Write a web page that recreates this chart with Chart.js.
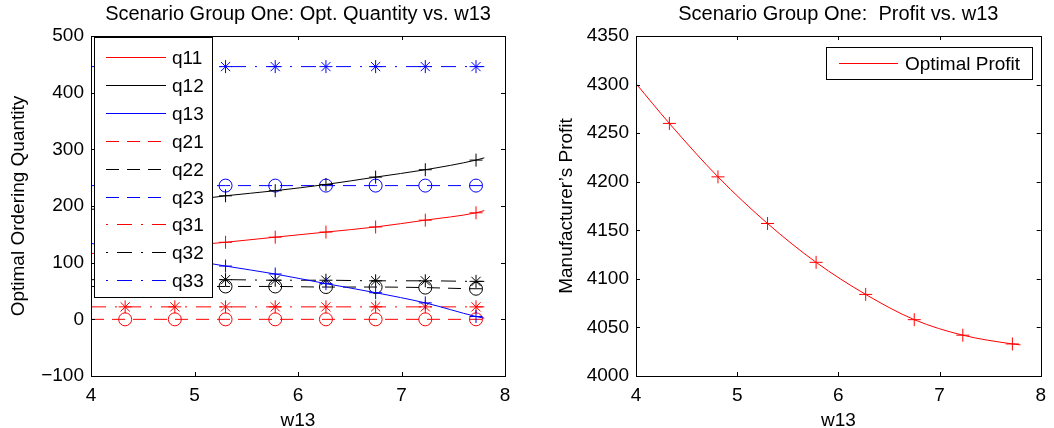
<!DOCTYPE html>
<html>
<head>
<meta charset="utf-8">
<script src="https://cdn.jsdelivr.net/npm/chart.js@4.4.1/dist/chart.umd.min.js"></script>
<style>
    html, body { margin: 0; padding: 0; background: #fff; }
    #wrap { position: relative; width: 1054px; height: 428px; background: #fff; }
    .box { position: absolute; top: 0; width: 527px; height: 428px; }
</style>
</head>
<body>
<div id="wrap">
    <div class="box" style="left:0"><canvas id="qty" width="527" height="428"></canvas></div>
    <div class="box" style="left:527px"><canvas id="profit" width="527" height="428"></canvas></div>
</div>
<script>
"use strict";

// w13 values: line start, the 8 marker positions, line end
const w13 = [4.00, 4.33, 4.81, 5.30, 5.78, 6.27, 6.75, 7.23, 7.72, 7.80];

// optimal ordering quantities
const q11 = [116, 121, 128, 136, 145, 154, 163, 175, 188, 192];
const q12 = [194, 199, 207, 218, 227, 238, 251, 264, 281, 285];
const q13 = [134, 124, 109, 94, 80, 63, 47, 29, 5, 2];
const q21 = [0, 0, 0, 0, 0, 0, 0, 0, 0, 0];
const q22 = [58, 58, 58, 58, 58, 57, 57, 56, 54, 54];
const q23 = [236, 236, 236, 236, 236, 236, 236, 236, 236, 236];
const q31 = [22, 22, 22, 22, 22, 22, 22, 22, 22, 22];
const q32 = [70, 70, 70, 70, 69, 69, 68, 68, 67, 67];
const q33 = [446, 446, 446, 446, 446, 446, 446, 446, 446, 446];

// manufacturer's profit (right plot)
const profit = [4301, 4260, 4205, 4157, 4117, 4084, 4058, 4042, 4033, 4032];

const xTicks = [4, 5, 6, 7, 8];
const qtyTicks = [-100, 0, 100, 200, 300, 400, 500];
const profitTicks = [4000, 4050, 4100, 4150, 4200, 4250, 4300, 4350];

Chart.defaults.font.family = '"Liberation Sans", Arial, Helvetica, sans-serif';
Chart.defaults.color = '#000';

const RED = '#ff0000', BLACK = '#000000', BLUE = '#0000ff';
const SOLID = [], DASH = [13, 8], DASHDOT = [15, 9, 2, 9];

// punkter ihop med x-värdena
function pts(vals) {
    return vals.map((v, i) => ({ x: w13[i], y: v }));
}

// ingen markör på linjens start- och slutpunkt
function markerRadius(r) {
    return c => (c.dataIndex === 0 || c.dataIndex === w13.length - 1) ? 0 : r;
}

function series(label, vals, color, dash, marker) {
    const r = marker === 'circle' ? 6.5 : 6.5;
    return {
        label: label,
        data: pts(vals),
        borderColor: color,
        borderWidth: 1,
        borderDash: dash,
        cubicInterpolationMode: 'monotone',
        pointStyle: marker,
        pointRadius: markerRadius(r),
        pointHoverRadius: markerRadius(r),
        pointBorderColor: color,
        pointBackgroundColor: 'rgba(0,0,0,0)',
        pointBorderWidth: 1
    };
}

// ram runt plottytan och tickmarkeringar inåt på alla fyra sidor (som i MATLAB)
const boxAndTicks = {
    id: 'boxAndTicks',
    afterDatasetsDraw(chart) {
        const { ctx, chartArea: a, scales } = chart;
        const len = 4;
        ctx.save();
        ctx.strokeStyle = '#000';
        ctx.lineWidth = 1;
        ctx.setLineDash([]);
        ctx.beginPath();
        scales.x.ticks.forEach(t => {
            const px = Math.round(scales.x.getPixelForValue(t.value)) + 0.5;
            ctx.moveTo(px, a.bottom); ctx.lineTo(px, a.bottom - len);
            ctx.moveTo(px, a.top); ctx.lineTo(px, a.top + len);
        });
        scales.y.ticks.forEach(t => {
            const py = Math.round(scales.y.getPixelForValue(t.value)) + 0.5;
            ctx.moveTo(a.left, py); ctx.lineTo(a.left + len, py);
            ctx.moveTo(a.right, py); ctx.lineTo(a.right - len, py);
        });
        ctx.stroke();
        ctx.strokeRect(Math.round(a.left) + 0.5, Math.round(a.top) + 0.5,
            Math.round(a.right - a.left), Math.round(a.bottom - a.top));
        ctx.restore();
    }
};

// egen legend med linjeprov (streckad / punkt-streckad)
const matlabLegend = {
    id: 'matlabLegend',
    afterDraw(chart, args, opts) {
        const { ctx, chartArea: a } = chart;
        const items = chart.data.datasets.filter(ds => ds.label);
        const left = Math.round(opts.fromRight ? a.right - opts.dx - opts.w : a.left + opts.dx);
        const top = Math.round(a.top + opts.dy);
        ctx.save();
        ctx.fillStyle = '#fff';
        ctx.fillRect(left, top, opts.w, opts.h);
        ctx.strokeStyle = '#000';
        ctx.lineWidth = 1;
        ctx.setLineDash([]);
        ctx.strokeRect(left + 0.5, top + 0.5, opts.w, opts.h);
        ctx.font = '19px "Liberation Sans", Arial, sans-serif';
        ctx.textBaseline = 'middle';
        ctx.textAlign = 'left';
        items.forEach((ds, i) => {
            const y = Math.round(top + opts.first + i * opts.row) + 0.5;
            const dash = ds.borderDash || [];
            ctx.beginPath();
            ctx.lineWidth = 1;
            ctx.strokeStyle = ds.borderColor;
            ctx.setLineDash(dash);
            // punkt-streckad börjar med punkten, som i originalet
            ctx.lineDashOffset = dash.length === 4 ? dash[0] + dash[1] : 0;
            ctx.moveTo(left + opts.x0, y);
            ctx.lineTo(left + opts.x1, y);
            ctx.stroke();
            ctx.setLineDash([]);
            ctx.lineDashOffset = 0;
            ctx.fillStyle = '#000';
            ctx.fillText(ds.label, left + opts.tx, y + 1);
        });
        ctx.restore();
    }
};

function minus(v) {
    return String(v).replace('-', '\u2212');
}

function axes(yTicks, yTitle, yWidth, yTitlePad) {
    return {
        x: {
            type: 'linear', min: 4, max: 8,
            afterBuildTicks: s => { s.ticks = xTicks.map(v => ({ value: v })); },
            afterFit: s => { s.height = 52; },
            grid: { display: false, drawTicks: false },
            border: { display: false },
            ticks: { font: { size: 19 }, color: '#000', padding: 8, maxRotation: 0 },
            title: { display: true, text: 'w13', font: { size: 19 }, color: '#000', padding: { top: 0, bottom: -4 } }
        },
        y: {
            type: 'linear', min: yTicks[0], max: yTicks[yTicks.length - 1],
            afterBuildTicks: s => { s.ticks = yTicks.map(v => ({ value: v })); },
            afterFit: s => { s.width = yWidth; },
            grid: { display: false, drawTicks: false },
            border: { display: false },
            ticks: { font: { size: 19 }, color: '#000', padding: 7, callback: v => minus(v) },
            title: { display: true, text: yTitle, font: { size: 19 }, color: '#000', padding: { top: yTitlePad, bottom: 0 } }
        }
    };
}

function titleOpts(text) {
    return {
        display: true, text: text, fullSize: false, color: '#000',
        font: { size: 20, weight: 'normal' },
        padding: { top: 2, bottom: 10 }
    };
}

new Chart(document.getElementById('qty'), {
    type: 'line',
    data: {
        datasets: [
            series('q11', q11, RED, SOLID, 'cross'),
            series('q12', q12, BLACK, SOLID, 'cross'),
            series('q13', q13, BLUE, SOLID, 'cross'),
            series('q21', q21, RED, DASH, 'circle'),
            series('q22', q22, BLACK, DASH, 'circle'),
            series('q23', q23, BLUE, DASH, 'circle'),
            series('q31', q31, RED, DASHDOT, 'star'),
            series('q32', q32, BLACK, DASHDOT, 'star'),
            series('q33', q33, BLUE, DASHDOT, 'star')
        ]
    },
    options: {
        responsive: false,
        animation: false,
        devicePixelRatio: 1,
        layout: { padding: { left: 0, right: 22, top: 0, bottom: 0 } },
        scales: axes(qtyTicks, 'Optimal Ordering Quantity', 91, 7),
        plugins: {
            legend: { display: false },
            tooltip: { enabled: false },
            title: titleOpts('Scenario Group One: Opt. Quantity vs. w13'),
            matlabLegend: { fromRight: false, dx: 3, dy: 1, w: 118, h: 260, first: 20, row: 27.9, x0: 12, x1: 72, tx: 78 }
        }
    },
    plugins: [boxAndTicks, matlabLegend]
});

new Chart(document.getElementById('profit'), {
    type: 'line',
    data: {
        datasets: [
            series('Optimal Profit', profit, RED, SOLID, 'cross')
        ]
    },
    options: {
        responsive: false,
        animation: false,
        devicePixelRatio: 1,
        layout: { padding: { left: 0, right: 5, top: 0, bottom: 0 } },
        scales: axes(profitTicks, 'Manufacturer\u2019s Profit', 109, 28),
        plugins: {
            legend: { display: false },
            tooltip: { enabled: false },
            title: titleOpts('Scenario Group One:  Profit vs. w13'),
            matlabLegend: { fromRight: true, dx: 9, dy: 11, w: 206, h: 32, first: 16, row: 28, x0: 13, x1: 72, tx: 79 }
        }
    },
    plugins: [boxAndTicks, matlabLegend]
});
</script>
</body>
</html>
